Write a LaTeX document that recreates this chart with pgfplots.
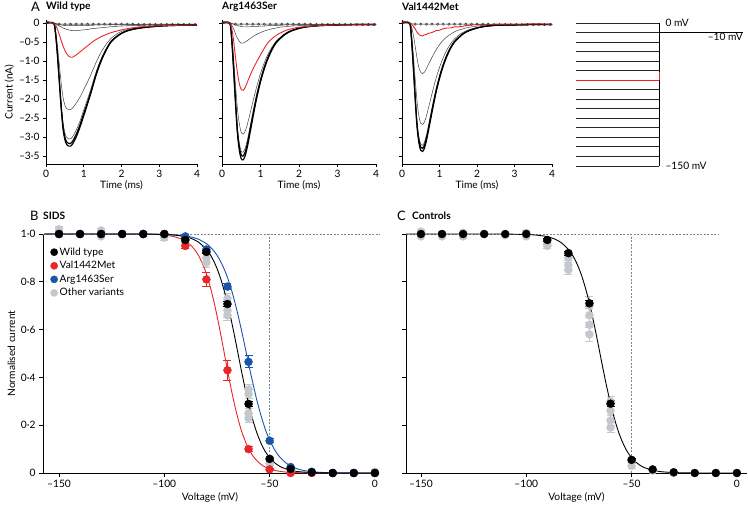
\documentclass[border=0pt]{standalone}
\usepackage{fontspec}
\setmainfont{Lato}
\usepackage{pgfplots}
\usepackage{pgfplotstable}
\pgfplotsset{compat=1.18}

\definecolor{lred}{RGB}{232,38,42}
\definecolor{lblue}{RGB}{26,86,168}
\definecolor{lgray}{RGB}{196,200,204}
\definecolor{dashc}{RGB}{111,138,153}

% sodium current traces, one column per prepulse step
\pgfplotstableread{
t    a     b     c     d     r     s     q
0    0     0     0     0     0     0     0
0.2  0     0     0     0     0     0     0
0.25 -0.25 -0.25 -0.23 -0.18 -0.05 -0.02 -0.01
0.3  -0.80 -0.79 -0.75 -0.57 -0.15 -0.05 -0.03
0.35 -1.51 -1.48 -1.42 -1.06 -0.30 -0.08 -0.04
0.4  -2.21 -2.17 -2.08 -1.56 -0.45 -0.10 -0.05
0.45 -2.77 -2.71 -2.60 -1.95 -0.60 -0.13 -0.06
0.5  -3.07 -3.00 -2.89 -2.16 -0.72 -0.15 -0.07
0.55 -3.20 -3.13 -3.01 -2.25 -0.81 -0.17 -0.07
0.6  -3.24 -3.17 -3.05 -2.28 -0.87 -0.18 -0.07
0.65 -3.24 -3.17 -3.05 -2.28 -0.90 -0.19 -0.07
0.7  -3.19 -3.12 -3.00 -2.24 -0.90 -0.20 -0.07
0.8  -3.00 -2.93 -2.82 -2.11 -0.84 -0.20 -0.07
0.9  -2.74 -2.68 -2.58 -1.95 -0.76 -0.19 -0.07
1.0  -2.44 -2.38 -2.29 -1.75 -0.68 -0.18 -0.06
1.1  -2.13 -2.09 -2.00 -1.55 -0.60 -0.17 -0.06
1.2  -1.81 -1.77 -1.70 -1.33 -0.52 -0.15 -0.06
1.3  -1.46 -1.43 -1.37 -1.10 -0.45 -0.14 -0.05
1.4  -1.16 -1.13 -1.09 -0.88 -0.39 -0.13 -0.05
1.5  -0.91 -0.89 -0.85 -0.70 -0.34 -0.12 -0.05
1.6  -0.70 -0.69 -0.66 -0.55 -0.30 -0.11 -0.05
1.7  -0.53 -0.52 -0.50 -0.43 -0.26 -0.10 -0.04
1.8  -0.42 -0.41 -0.40 -0.34 -0.23 -0.09 -0.04
2.0  -0.27 -0.27 -0.26 -0.22 -0.18 -0.08 -0.04
2.2  -0.19 -0.19 -0.18 -0.16 -0.14 -0.07 -0.04
2.5  -0.13 -0.13 -0.12 -0.11 -0.10 -0.06 -0.03
3.0  -0.08 -0.08 -0.08 -0.07 -0.07 -0.05 -0.03
3.5  -0.06 -0.06 -0.06 -0.05 -0.06 -0.04 -0.03
4.0  -0.05 -0.05 -0.05 -0.04 -0.05 -0.04 -0.03
}\wttab

\pgfplotstableread{
t    a     b     c     d     r     s     q
0    0     0     0     0     0     0     0
0.2  0     0     0     0     0     0     0
0.25 -0.40 -0.39 -0.38 -0.30 -0.12 -0.05 -0.01
0.3  -1.20 -1.17 -1.13 -0.90 -0.45 -0.15 -0.03
0.35 -2.10 -2.04 -1.98 -1.60 -0.90 -0.28 -0.05
0.4  -2.90 -2.82 -2.74 -2.25 -1.30 -0.40 -0.06
0.45 -3.35 -3.26 -3.17 -2.65 -1.60 -0.48 -0.08
0.5  -3.57 -3.47 -3.37 -2.88 -1.75 -0.53 -0.09
0.55 -3.60 -3.50 -3.40 -2.92 -1.77 -0.53 -0.10
0.6  -3.50 -3.40 -3.30 -2.85 -1.70 -0.50 -0.10
0.65 -3.30 -3.21 -3.12 -2.70 -1.58 -0.47 -0.10
0.7  -3.05 -2.96 -2.88 -2.50 -1.45 -0.43 -0.10
0.8  -2.50 -2.43 -2.36 -2.08 -1.22 -0.36 -0.09
0.9  -1.98 -1.93 -1.87 -1.68 -1.02 -0.30 -0.09
1.0  -1.55 -1.51 -1.47 -1.33 -0.84 -0.25 -0.08
1.1  -1.20 -1.17 -1.13 -1.04 -0.66 -0.21 -0.08
1.2  -0.92 -0.90 -0.87 -0.81 -0.51 -0.18 -0.07
1.3  -0.70 -0.68 -0.66 -0.63 -0.41 -0.15 -0.07
1.4  -0.53 -0.51 -0.50 -0.49 -0.33 -0.13 -0.06
1.5  -0.42 -0.41 -0.40 -0.39 -0.27 -0.11 -0.06
1.6  -0.33 -0.32 -0.31 -0.31 -0.22 -0.10 -0.05
1.7  -0.26 -0.25 -0.24 -0.25 -0.18 -0.09 -0.05
1.8  -0.21 -0.20 -0.20 -0.20 -0.15 -0.08 -0.05
2.0  -0.14 -0.14 -0.13 -0.14 -0.11 -0.07 -0.04
2.2  -0.10 -0.10 -0.10 -0.10 -0.09 -0.06 -0.04
2.5  -0.07 -0.07 -0.07 -0.07 -0.07 -0.05 -0.03
3.0  -0.05 -0.05 -0.05 -0.05 -0.05 -0.04 -0.03
3.5  -0.04 -0.04 -0.04 -0.04 -0.05 -0.04 -0.03
4.0  -0.04 -0.04 -0.04 -0.04 -0.05 -0.03 -0.03
}\argtab

\pgfplotstableread{
t    a     b     c     d     e     r
0    0     0     0     0     0     0
0.2  0     0     0     0     0     0
0.25 -0.38 -0.37 -0.36 -0.25 -0.10 -0.03
0.3  -1.13 -1.10 -1.07 -0.80 -0.30 -0.08
0.35 -1.97 -1.92 -1.88 -1.45 -0.60 -0.15
0.4  -2.72 -2.66 -2.60 -2.05 -0.92 -0.24
0.45 -3.15 -3.07 -3.00 -2.45 -1.17 -0.30
0.5  -3.35 -3.27 -3.19 -2.64 -1.30 -0.33
0.55 -3.38 -3.30 -3.22 -2.67 -1.33 -0.34
0.6  -3.29 -3.21 -3.13 -2.60 -1.29 -0.31
0.65 -3.10 -3.03 -2.95 -2.45 -1.20 -0.30
0.7  -2.86 -2.80 -2.73 -2.26 -1.10 -0.27
0.8  -2.35 -2.29 -2.23 -1.86 -0.90 -0.25
0.9  -1.86 -1.82 -1.77 -1.48 -0.72 -0.20
1.0  -1.46 -1.42 -1.39 -1.17 -0.57 -0.19
1.1  -1.13 -1.10 -1.07 -0.91 -0.45 -0.15
1.2  -0.87 -0.84 -0.82 -0.70 -0.36 -0.13
1.3  -0.66 -0.64 -0.62 -0.54 -0.29 -0.13
1.4  -0.50 -0.49 -0.47 -0.42 -0.23 -0.10
1.5  -0.40 -0.39 -0.38 -0.33 -0.19 -0.10
1.6  -0.31 -0.30 -0.30 -0.26 -0.16 -0.09
1.7  -0.24 -0.24 -0.23 -0.21 -0.13 -0.07
1.8  -0.20 -0.19 -0.19 -0.17 -0.11 -0.06
2.0  -0.13 -0.13 -0.13 -0.12 -0.08 -0.04
2.2  -0.09 -0.09 -0.09 -0.09 -0.06 -0.04
2.5  -0.06 -0.06 -0.06 -0.06 -0.05 -0.03
3.0  -0.05 -0.05 -0.05 -0.05 -0.04 -0.03
3.5  -0.04 -0.04 -0.04 -0.04 -0.03 -0.02
4.0  -0.04 -0.04 -0.04 -0.04 -0.03 -0.03
}\valtab

% flat traces drawn with open circles
\pgfplotstableread{
t    y
0.05 0.02
0.2  -0.01
0.35 -0.03
0.5  -0.03
0.65 -0.03
0.8  -0.03
0.95 -0.03
1.1  -0.03
1.25 -0.03
1.4  -0.03
1.55 -0.03
1.7  -0.03
1.85 -0.03
2.0  -0.03
2.15 -0.03
2.3  -0.03
2.45 -0.04
2.6  -0.04
2.75 -0.04
2.9  -0.04
3.05 -0.04
3.2  -0.04
3.35 -0.04
3.5  -0.04
3.65 -0.04
3.8  -0.04
3.95 -0.04
}\flattab

% Boltzmann fits, read point by point
\pgfplotstableread{
v     i
-157  1
-120  0.9999
-110  0.9997
-100  0.998
-96   0.996
-92   0.992
-88   0.984
-84   0.9675
-80   0.936
-78   0.911
-76   0.877
-74   0.833
-72   0.777
-70   0.710
-68   0.631
-66   0.545
-64   0.455
-62   0.369
-60   0.291
-58   0.223
-56   0.167
-54   0.123
-52   0.089
-50   0.064
-48   0.046
-46   0.0325
-44   0.023
-40   0.0114
-36   0.0056
-30   0.0019
-20   0.0003
0     0
}\fitwt

\pgfplotstableread{
v     i
-157  1
-110  0.9993
-100  0.9954
-96   0.990
-92   0.9795
-88   0.957
-86   0.939
-84   0.914
-82   0.879
-80   0.833
-78   0.773
-76   0.700
-74   0.616
-72   0.524
-70   0.430
-68   0.341
-66   0.262
-64   0.195
-62   0.143
-60   0.1025
-58   0.0726
-56   0.0509
-54   0.0355
-52   0.0246
-50   0.0170
-46   0.0081
-42   0.0038
-36   0.0012
-30   0.0004
0     0
}\fitval

\pgfplotstableread{
v     i
-157  1
-110  0.9997
-100  0.9985
-96   0.997
-92   0.9943
-88   0.989
-84   0.979
-80   0.9596
-78   0.9445
-76   0.924
-74   0.897
-72   0.862
-70   0.818
-68   0.763
-66   0.697
-64   0.623
-62   0.542
-60   0.458
-58   0.378
-56   0.303
-54   0.238
-52   0.182
-50   0.138
-48   0.103
-46   0.076
-44   0.056
-42   0.041
-40   0.029
-36   0.015
-32   0.008
-28   0.004
-20   0.001
0     0
}\fitarg

\pgfplotsset{
  basefont/.style={font=\fontsize{10.2}{11.5}\selectfont},
  trace/.style={basefont, scale only axis, anchor=south west, height=144pt,
    xmin=0, xmax=4, ymin=-3.71, ymax=0.08,
    axis lines*=left, axis line style={-, line width=0.8pt},
    tick align=outside, major tick length=3pt, tick style={black, line width=0.7pt},
    xtick={0,1,2,3,4}, xticklabels={0,1,2,3,4},
    ytick={-3.5,-3,-2.5,-2,-1.5,-1,-0.5,0}, yticklabels={},
    xlabel={Time (ms)}, xlabel style={yshift=4pt},
    ylabel style={yshift=-2pt}, clip=false},
  thick tr/.style={black, line width=1.2pt, smooth},
  thin tr/.style={black!75, line width=0.5pt, smooth},
  red tr/.style={lred, line width=0.9pt, smooth},
  flat tr/.style={black!80, line width=0.5pt, mark=o, mark size=1.2pt},
  volt/.style={basefont, scale only axis, anchor=south west, height=239pt,
    ymin=0, ymax=1,
    axis lines*=left, axis line style={-, line width=0.9pt},
    tick align=outside, major tick length=4pt, tick style={black, line width=0.9pt},
    xtick={-150,-100,-50,0}, xticklabels={–150,–100,–50,0},
    ytick={0,0.2,0.4,0.6,0.8,1},
    xlabel={Voltage (mV)}, xlabel style={yshift=2pt}, clip=false},
  ebars/.style={error bars/y dir=both, error bars/y explicit,
    error bars/error bar style={line width=0.9pt},
    error bars/error mark options={rotate=90, mark size=4pt, line width=0.9pt}},
  dot/.style={only marks, mark=*, mark size=4pt, #1, mark options={fill=#1}},
  fit/.style={#1, line width=0.9pt, smooth},
  ref line/.style={dashc, line width=0.8pt, dash pattern=on 2pt off 1.5pt},
}

\begin{document}
\begin{tikzpicture}
\path[use as bounding box] (0,0) rectangle (748pt,-507pt);

% ---- A: current traces ----
\begin{axis}[trace, at={(46pt,-164pt)}, width=151pt,
  yticklabels={–3·5,–3·0,–2·5,–2·0,–1·5,–1·0,–0·5,0},
  ylabel={Current (nA)}]
\addplot[flat tr] table[x=t,y=y]{\flattab};
\addplot[thin tr] table[x=t,y=q]{\wttab};
\addplot[thin tr] table[x=t,y=s]{\wttab};
\addplot[thin tr] table[x=t,y=d]{\wttab};
\addplot[thin tr] table[x=t,y=c]{\wttab};
\addplot[thick tr] table[x=t,y=b]{\wttab};
\addplot[thick tr] table[x=t,y=a]{\wttab};
\addplot[red tr] table[x=t,y=r]{\wttab};
\end{axis}

\begin{axis}[trace, at={(222pt,-164pt)}, width=154pt]
\addplot[flat tr] table[x=t,y=y]{\flattab};
\addplot[thin tr] table[x=t,y=q]{\argtab};
\addplot[thin tr] table[x=t,y=s]{\argtab};
\addplot[thin tr] table[x=t,y=d]{\argtab};
\addplot[thin tr] table[x=t,y=c]{\argtab};
\addplot[thick tr] table[x=t,y=b]{\argtab};
\addplot[thick tr] table[x=t,y=a]{\argtab};
\addplot[red tr] table[x=t,y=r]{\argtab};
\end{axis}

\begin{axis}[trace, at={(402pt,-164pt)}, width=150pt]
\addplot[flat tr] table[x=t,y=y]{\flattab};
\addplot[thin tr] table[x=t,y=e]{\valtab};
\addplot[thin tr] table[x=t,y=d]{\valtab};
\addplot[thin tr] table[x=t,y=c]{\valtab};
\addplot[thick tr] table[x=t,y=b]{\valtab};
\addplot[thick tr] table[x=t,y=a]{\valtab};
\addplot[red tr] table[x=t,y=r]{\valtab};
\end{axis}

% ---- A: voltage protocol ----
\begin{axis}[basefont, scale only axis, anchor=south west, at={(576pt,-166pt)},
  width=167pt, height=143pt, xmin=0, xmax=167, ymin=-150, ymax=0,
  hide axis, clip=false]
\addplot[xcomb, black!85, line width=0.9pt] coordinates {(83,0) (83,-10) (83,-20) (83,-30) (83,-40) (83,-50) (83,-70) (83,-80) (83,-90) (83,-100) (83,-110) (83,-120) (83,-130) (83,-140) (83,-150)};
\addplot[black, line width=0.9pt] coordinates {(83,0) (83,-150)};
\addplot[black, line width=0.9pt] coordinates {(83,-10) (167,-10)};
\addplot[xcomb, lred, line width=0.9pt] coordinates {(83,-60)};
\addplot[lred, line width=0.9pt] coordinates {(83,-60) (83,-51)};
\node[anchor=west] at (axis cs:86,0.5) {0 mV};
\node[anchor=east, inner sep=0pt] at (axis cs:167,-15) {–10 mV};
\node[anchor=west] at (axis cs:86,-150) {–150 mV};
\end{axis}

% ---- B: SIDS ----
\begin{axis}[volt, at={(43pt,-473pt)}, width=334pt, xmin=-157.6, xmax=1,
  yticklabels={0,0·2,0·4,0·6,0·8,1·0}, ylabel={Normalised current},
  ylabel style={yshift=-1pt},
  legend style={at={(rel axis cs:0.022,0.952)}, anchor=north west, draw=none,
    fill=none, row sep=0.6pt, inner sep=0pt, basefont,
    nodes={inner xsep=2pt}},
  legend cell align=left]
\addlegendimage{dot=black, mark size=3.6pt}
\addlegendentry{Wild type}
\addlegendimage{dot=lred, mark size=3.6pt}
\addlegendentry{Val1442Met}
\addlegendimage{dot=lblue, mark size=3.6pt}
\addlegendentry{Arg1463Ser}
\addlegendimage{dot=lgray, mark size=3.6pt}
\addlegendentry{Other variants}
\addplot[ref line, forget plot] coordinates {(-157.6,1) (2,1)};
\addplot[ref line, forget plot] coordinates {(-50,0) (-50,1)};
\addplot[dot=lgray, ebars, forget plot] coordinates {
 (-150,1.02) +- (0,0.01) (-150,1.0) +- (0,0) (-140,1.0) +- (0,0)
 (-130,1.015) +- (0,0.01) (-130,0.99) +- (0,0) (-120,1.0) +- (0,0)
 (-110,1.0) +- (0,0) (-100,0.985) +- (0,0.01) (-100,1.0) +- (0,0)
 (-90,0.96) +- (0,0.01) (-90,0.975) +- (0,0.01) (-80,0.90) +- (0,0.02)
 (-80,0.88) +- (0,0.02) (-70,0.73) +- (0,0.02) (-70,0.68) +- (0,0.03)
 (-70,0.66) +- (0,0.02) (-60,0.35) +- (0,0.02) (-60,0.33) +- (0,0.02)
 (-60,0.25) +- (0,0.02) (-60,0.23) +- (0,0.02) (-50,0.06) +- (0,0.01)
 (-50,0.04) +- (0,0.01) (-40,0.02) +- (0,0) (-40,0.01) +- (0,0)
 (-30,0.005) +- (0,0) (-20,0) +- (0,0) (-10,0) +- (0,0) (0,0.005) +- (0,0)};
\addplot[fit=lred, forget plot] table[x=v,y=i]{\fitval};
\addplot[fit=lblue, forget plot] table[x=v,y=i]{\fitarg};
\addplot[fit=black, forget plot] table[x=v,y=i]{\fitwt};
\addplot[dot=lred, ebars, forget plot] coordinates {
 (-150,1) +- (0,0) (-140,1) +- (0,0) (-130,1) +- (0,0) (-120,1) +- (0,0)
 (-110,1) +- (0,0) (-100,1) +- (0,0) (-90,0.95) +- (0,0.012)
 (-80,0.81) +- (0,0.03) (-70,0.43) +- (0,0.042) (-60,0.10) +- (0,0.01)
 (-50,0.015) +- (0,0.005) (-40,0.0) +- (0,0) (-30,0) +- (0,0)
 (-20,0) +- (0,0) (-10,0) +- (0,0) (0,0) +- (0,0)};
\addplot[dot=lblue, ebars, forget plot] coordinates {
 (-150,1) +- (0,0) (-140,1) +- (0,0) (-130,1) +- (0,0) (-120,1) +- (0,0)
 (-110,1) +- (0,0) (-100,1.0) +- (0,0.005) (-90,0.99) +- (0,0.005)
 (-80,0.935) +- (0,0.012) (-70,0.78) +- (0,0.012) (-60,0.465) +- (0,0.025)
 (-50,0.135) +- (0,0.008) (-40,0.025) +- (0,0.004) (-30,0.005) +- (0,0)
 (-20,0) +- (0,0) (-10,0) +- (0,0) (0,0) +- (0,0)};
\addplot[dot=black, ebars, forget plot] coordinates {
 (-150,1) +- (0,0) (-140,1) +- (0,0) (-130,1) +- (0,0) (-120,1) +- (0,0)
 (-110,1) +- (0,0) (-100,1) +- (0,0) (-90,0.975) +- (0,0.005)
 (-80,0.925) +- (0,0.008) (-70,0.707) +- (0,0.012) (-60,0.289) +- (0,0.012)
 (-50,0.059) +- (0,0.005) (-40,0.017) +- (0,0) (-30,0.003) +- (0,0)
 (-20,0) +- (0,0) (-10,0) +- (0,0) (0,0) +- (0,0)};
\end{axis}

% ---- C: controls ----
\begin{axis}[volt, at={(406pt,-473pt)}, width=341pt, xmin=-157.1, xmax=4.8,
  yticklabels={}]
\addplot[ref line] coordinates {(-157.1,1) (-9,1)};
\addplot[ref line] coordinates {(-50,0) (-50,1)};
\addplot[dot=lgray, ebars] coordinates {
 (-150,1.01) +- (0,0.01) (-150,0.99) +- (0,0) (-140,1.0) +- (0,0.01)
 (-140,0.99) +- (0,0) (-130,0.99) +- (0,0.01) (-130,1.005) +- (0,0)
 (-120,1.0) +- (0,0) (-110,0.995) +- (0,0) (-100,1.005) +- (0,0.01)
 (-100,0.99) +- (0,0) (-90,0.96) +- (0,0.01) (-90,0.95) +- (0,0.01)
 (-80,0.90) +- (0,0.02) (-80,0.87) +- (0,0.02) (-80,0.85) +- (0,0.02)
 (-70,0.70) +- (0,0.04) (-70,0.66) +- (0,0.03) (-70,0.62) +- (0,0.03)
 (-70,0.58) +- (0,0.03) (-60,0.30) +- (0,0.02) (-60,0.26) +- (0,0.02)
 (-60,0.22) +- (0,0.02) (-60,0.19) +- (0,0.02) (-50,0.05) +- (0,0.01)
 (-50,0.03) +- (0,0.01) (-40,0.01) +- (0,0) (-30,0) +- (0,0)
 (-20,0) +- (0,0) (-10,0) +- (0,0) (0,0) +- (0,0)};
\addplot[fit=black] table[x=v,y=i]{\fitwt};
\addplot[dot=black, ebars] coordinates {
 (-150,1) +- (0,0) (-140,1) +- (0,0) (-130,1) +- (0,0) (-120,1) +- (0,0)
 (-110,1) +- (0,0) (-100,1) +- (0,0) (-90,0.975) +- (0,0.005)
 (-80,0.92) +- (0,0.008) (-70,0.71) +- (0,0.012) (-60,0.29) +- (0,0.012)
 (-50,0.055) +- (0,0.005) (-40,0.015) +- (0,0) (-30,0.003) +- (0,0)
 (-20,0) +- (0,0) (-10,0) +- (0,0) (0,0) +- (0,0)};
\end{axis}

% panel titles
\node[anchor=west, inner sep=0pt] at (31pt,-7pt) {\fontsize{13}{13}\selectfont A};
\node[anchor=west, inner sep=0pt] at (46pt,-7pt) {\fontsize{10.2}{11}\selectfont\bfseries Wild type};
\node[anchor=west, inner sep=0pt] at (222pt,-7pt) {\fontsize{10.2}{11}\selectfont\bfseries Arg1463Ser};
\node[anchor=west, inner sep=0pt] at (402pt,-7pt) {\fontsize{10.2}{11}\selectfont\bfseries Val1442Met};
\node[anchor=west, inner sep=0pt] at (30pt,-216pt) {\fontsize{13}{13}\selectfont B};
\node[anchor=west, inner sep=0pt] at (43pt,-216pt) {\fontsize{10.2}{11}\selectfont\bfseries SIDS};
\node[anchor=west, inner sep=0pt] at (397pt,-216pt) {\fontsize{13}{13}\selectfont C};
\node[anchor=west, inner sep=0pt] at (412pt,-216pt) {\fontsize{10.2}{11}\selectfont\bfseries Controls};
\end{tikzpicture}
\end{document}
